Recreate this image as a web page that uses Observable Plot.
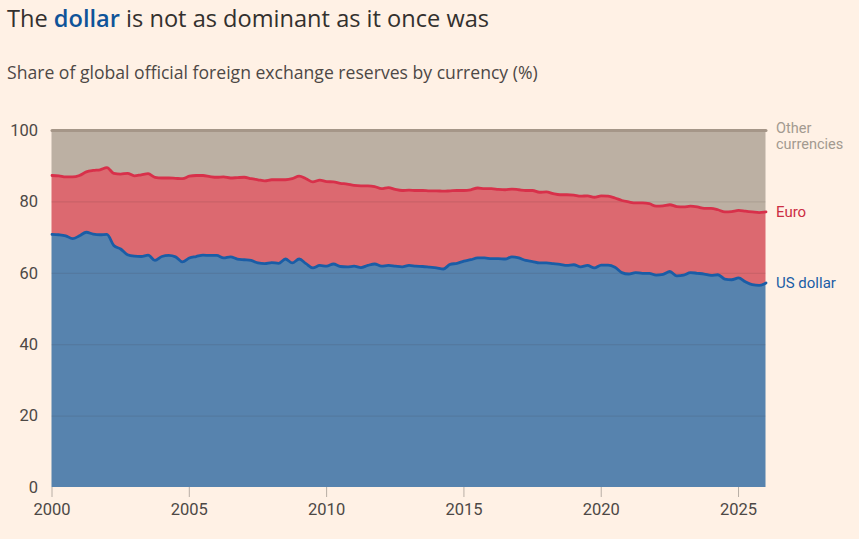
<!DOCTYPE html>
<html>
<head>
<meta charset="utf-8">
<script src="https://cdn.jsdelivr.net/npm/d3@7"></script>
<script src="https://cdn.jsdelivr.net/npm/@observablehq/plot@0.6"></script>
<style>
  html, body { margin: 0; padding: 0; background: #fff1e5; }
  body { width: 859px; height: 539px; position: relative; overflow: hidden; font-family: Roboto, "Noto Sans", sans-serif; }
  #title { position: absolute; left: 7px; top: 2px; font-family: "Open Sans", Roboto, sans-serif; font-size: 23.6px; color: #33302e; white-space: nowrap; }
  #title b { color: #0f5499; font-weight: 600; }
  #subtitle { position: absolute; left: 7px; top: 60px; font-family: "Open Sans", Roboto, sans-serif; font-size: 17.6px; color: #4d4845; white-space: nowrap; }
  #chart { position: absolute; left: 0; top: 100px; }
</style>
</head>
<body>
<div id="title">The <b>dollar</b> is not as dominant as it once was</div>
<div id="subtitle">Share of global official foreign exchange reserves by currency (%)</div>
<div id="chart"></div>
<script>
// Quarterly observations, 2000 Q1 onwards (one value per quarter)
const startYear = 2000;
const usdShare = [
  70.9, 70.8, 70.5, 69.7, 70.5, 71.5, 71.0, 70.8, 70.9, 67.8,
  66.8, 65.2, 64.8, 64.7, 65.1, 63.6, 64.7, 65.0, 64.6, 63.2,
  64.3, 64.7, 65.1, 65.0, 65.0, 64.3, 64.6, 64.0, 63.8, 63.6,
  62.9, 62.7, 63.0, 62.8, 64.0, 62.9, 64.0, 62.7, 61.5, 62.2,
  62.0, 62.6, 61.9, 61.8, 62.0, 61.6, 62.2, 62.6, 62.0, 62.2,
  62.0, 61.8, 62.2, 62.0, 61.9, 61.7, 61.5, 61.2, 62.5, 62.8,
  63.4, 63.8, 64.3, 64.3, 64.1, 64.1, 64.0, 64.6, 64.3, 63.6,
  63.3, 62.9, 62.9, 62.7, 62.5, 62.2, 62.4, 61.8, 62.2, 61.5,
  62.3, 62.3, 61.7, 60.2, 59.8, 60.2, 60.0, 60.0, 59.5, 59.7,
  60.5, 59.3, 59.5, 60.2, 60.0, 59.8, 59.4, 59.6, 58.4, 58.2,
  58.7, 57.6, 56.8, 56.6, 57.3
];
const euroShare = [
  16.5, 16.5, 16.5, 17.3, 16.9, 16.9, 17.8, 18.2, 18.7, 20.2,
  21.0, 22.8, 22.5, 22.9, 22.8, 23.3, 22.0, 21.7, 22.0, 23.3,
  22.9, 22.7, 22.3, 22.1, 21.9, 22.7, 22.1, 22.8, 23.1, 22.9,
  23.3, 23.2, 23.2, 23.4, 22.2, 23.6, 23.2, 23.8, 24.1, 23.9,
  23.7, 23.0, 23.3, 23.2, 22.6, 22.9, 22.3, 21.7, 21.7, 21.8,
  21.5, 21.4, 21.1, 21.2, 21.3, 21.4, 21.6, 21.8, 20.6, 20.4,
  19.8, 19.6, 19.6, 19.4, 19.6, 19.4, 19.4, 19.0, 19.1, 19.6,
  19.9, 19.8, 19.9, 19.6, 19.5, 19.8, 19.5, 19.8, 19.5, 19.8,
  19.4, 19.3, 19.4, 20.2, 20.2, 19.5, 19.7, 19.5, 19.3, 19.2,
  18.7, 19.4, 19.1, 18.6, 18.6, 18.4, 18.8, 18.2, 18.8, 19.1,
  18.9, 19.8, 20.4, 20.4, 19.9
];
const currencies = ["US dollar", "Euro", "Other currencies"];
const yTicks = [0, 20, 40, 60, 80, 100];
const xTicks = [2000, 2005, 2010, 2015, 2020, 2025];

const fills = {"US dollar": "#5783ae", "Euro": "#dc6970", "Other currencies": "#bcb0a3"};
const strokes = {"US dollar": "#1a5da6", "Euro": "#d8304a", "Other currencies": "#a59688"};
const labelColors = {"US dollar": "#1a5da6", "Euro": "#cc2d43", "Other currencies": "#a39a90"};

const rows = [];
usdShare.forEach((u, i) => {
  const date = startYear + i / 4;
  const e = euroShare[i];
  rows.push({date, currency: "US dollar", value: u});
  rows.push({date, currency: "Euro", value: e});
  rows.push({date, currency: "Other currencies", value: 100 - u - e});
});
const last = rows.slice(-3);

const stackOpts = {x: "date", y: "value", z: "currency", order: currencies};
const curve = "monotone-x";

const chart = Plot.plot({
  width: 859,
  height: 437,
  marginTop: 30,
  marginBottom: 50,
  marginLeft: 51.5,
  marginRight: 93.5,
  style: {background: "transparent", fontFamily: "Roboto, 'Noto Sans', sans-serif", fontSize: "16px", color: "#4d4845", overflow: "visible"},
  x: {domain: [2000, 2026], ticks: xTicks, tickFormat: d => String(d), label: null, tickSize: 10, tickPadding: 6},
  y: {domain: [0, 100], ticks: yTicks, label: null, tickSize: 0, tickPadding: 14},
  marks: [
    Plot.areaY(rows, Plot.stackY({...stackOpts, fill: d => fills[d.currency], curve})),
    Plot.ruleY([20, 40, 60, 80], {stroke: "#3d2f2a", strokeOpacity: 0.13, strokeWidth: 1}),
    Plot.lineY(rows, Plot.stackY2({...stackOpts, stroke: d => strokes[d.currency], strokeWidth: d => d.currency === "Other currencies" ? 3 : 2.8, curve})),
    Plot.axisX({ticks: xTicks, tickFormat: d => String(d), tickSize: 10, tickPadding: 6, stroke: "#b8aea5", fill: "#4d4845", fontSize: 16.5}),
    Plot.axisY({ticks: yTicks, tickSize: 0, tickPadding: 14, fill: "#4d4845", fontSize: 16.5}),
    Plot.text(last.filter(d => d.currency !== "Other currencies"), Plot.stackY2({...stackOpts, text: "currency", fill: d => labelColors[d.currency], textAnchor: "start", dx: 10, dy: 0, fontSize: 15})),
    Plot.text(["Other\ncurrencies"], {frameAnchor: "top-right", dx: 10, dy: -9, textAnchor: "start", fill: labelColors["Other currencies"], fontSize: 14.5, lineHeight: 1.12})
  ]
});
document.getElementById("chart").appendChild(chart);
</script>
</body>
</html>
